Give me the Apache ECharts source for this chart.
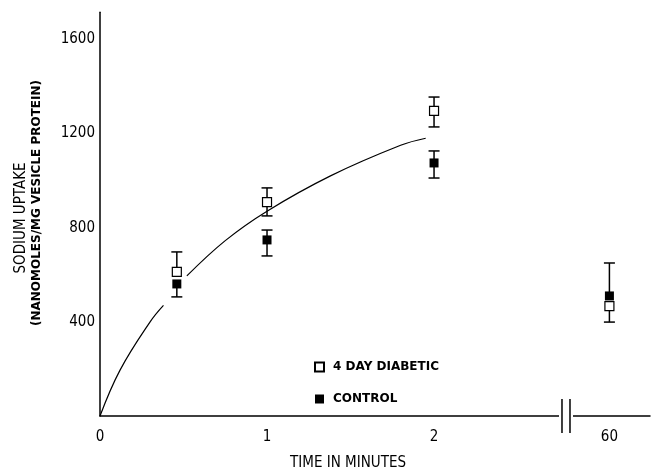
<!DOCTYPE html>
<html><head><meta charset="utf-8">
<script src="https://cdn.jsdelivr.net/npm/echarts@6/dist/echarts.min.js"></script>
<style>html,body{margin:0;padding:0;background:#fff}#c{width:654px;height:472px}</style>
</head><body><div id="c"></div>
<script>
// ---- data ----
const xTickTimes = [0, 1, 2, 60];
const xTickLabels = ['0', '1', '2', '60'];
const yTickValues = [400, 800, 1200, 1600];
const sampleTimes = [0.46, 1, 2, 60];
const diabeticMean = [612, 909, 1296, 467];
const diabeticHigh = [697, 969, 1355, 467];
const diabeticLow  = [612, 850, 1228, 399];
const controlMean  = [561, 748, 1075, 510];
const controlHigh  = [561, 790, 1126, 650];
const controlLow   = [506, 680, 1011, 510];
const curveTimes  = [0, 0.12, 0.3, 0.38, null, 0.52, 0.75, 1, 1.38, 1.8, 1.95];
const curveValues = [0, 195, 400, 470, null, 595, 745, 870, 1020, 1150, 1180];
const seriesNames = ['4 DAY DIABETIC', 'CONTROL'];

// ---- broken time axis: 0..2 linear, then 60 after a break ----
const POS_60 = 3.05, BREAK_POS = 2.79, X_MAX = 3.293;
function tPos(t) { return t === null ? null : (t > 2.5 ? POS_60 : t); }

const NARROW = "'Liberation Sans Narrow','DejaVu Sans Condensed',sans-serif";

function errItems(mean, lo, hi) {
  return sampleTimes.map((t, i) => [tPos(t), mean[i], lo[i], hi[i]]);
}
function errRender(params, api) {
  const x = api.value(0), m = api.value(1), lo = api.value(2), hi = api.value(3);
  const pm = api.coord([x, m]);
  const st = { stroke: '#000', lineWidth: 1.5 };
  const ch = [];
  const cap = 5.5;
  if (hi > m) {
    const ph = api.coord([x, hi]);
    ch.push({ type: 'line', shape: { x1: pm[0], y1: pm[1], x2: ph[0], y2: ph[1] }, style: st });
    ch.push({ type: 'line', shape: { x1: ph[0] - cap, y1: ph[1], x2: ph[0] + cap, y2: ph[1] }, style: st });
  }
  if (lo < m) {
    const pl = api.coord([x, lo]);
    ch.push({ type: 'line', shape: { x1: pm[0], y1: pm[1], x2: pl[0], y2: pl[1] }, style: st });
    ch.push({ type: 'line', shape: { x1: pl[0] - cap, y1: pl[1], x2: pl[0] + cap, y2: pl[1] }, style: st });
  }
  return { type: 'group', children: ch };
}

const chart = echarts.init(document.getElementById('c'), null, { renderer: 'canvas' });
chart.setOption({
  animation: false,
  backgroundColor: '#fff',
  grid: { left: 100, right: 4, top: 12.3, bottom: 56 },
  xAxis: {
    type: 'value', min: 0, max: X_MAX,
    axisLine: { lineStyle: { color: '#000', width: 1.5 } },
    axisTick: { show: false },
    splitLine: { show: false },
    axisLabel: {
      customValues: xTickTimes.map(tPos),
      formatter: v => { const i = xTickTimes.map(tPos).findIndex(p => Math.abs(p - v) < 1e-6); return i >= 0 ? xTickLabels[i] : ''; },
      color: '#000', fontFamily: NARROW, fontSize: 15, margin: 14
    }
  },
  yAxis: {
    type: 'value', min: 0, max: 1715,
    axisLine: { show: true, lineStyle: { color: '#000', width: 1.5 } },
    axisTick: { show: false },
    splitLine: { show: false },
    axisLabel: {
      customValues: yTickValues,
      formatter: v => String(v),
      color: '#000', fontFamily: NARROW, fontSize: 15, margin: 5
    }
  },
  legend: {
    data: seriesNames,
    orient: 'vertical', left: 309, top: 356,
    itemWidth: 9, itemHeight: 9, itemGap: 20,
    selectedMode: false,
    textStyle: { color: '#000', fontFamily: "'DejaVu Sans',sans-serif", fontWeight: 'bold', fontSize: 12, padding: [0, 0, 0, 4] }
  },
  graphic: [
    { type: 'text', x: 348, y: 463, style: { text: 'TIME IN MINUTES', align: 'center', verticalAlign: 'middle', textAlign: 'center', textVerticalAlign: 'middle', fill: '#000', font: "15px 'Liberation Sans Narrow','DejaVu Sans Condensed',sans-serif" } },
    { type: 'text', x: 21, y: 218, rotation: Math.PI / 2, style: { text: 'SODIUM UPTAKE', align: 'center', verticalAlign: 'middle', textAlign: 'center', textVerticalAlign: 'middle', fill: '#000', font: "15px 'Liberation Sans Narrow','DejaVu Sans Condensed',sans-serif" } },
    { type: 'text', x: 37, y: 203, rotation: Math.PI / 2, style: { text: '(NANOMOLES/MG VESICLE PROTEIN)', align: 'center', verticalAlign: 'middle', textAlign: 'center', textVerticalAlign: 'middle', fill: '#000', font: "bold 12px 'DejaVu Sans',sans-serif" } }
  ],
  series: [
    {
      type: 'line', name: 'fit', smooth: 0.4, showSymbol: false, silent: true, z: 1,
      lineStyle: { color: '#000', width: 1.2 },
      data: curveTimes.map((t, i) => t === null ? [null, null] : [t, curveValues[i]]),
      connectNulls: false
    },
    { type: 'custom', name: 'err-d', z: 2, silent: true, renderItem: errRender, encode: { x: 0, y: [1, 2, 3] }, data: errItems(diabeticMean, diabeticLow, diabeticHigh) },
    { type: 'custom', name: 'err-c', z: 2, silent: true, renderItem: errRender, encode: { x: 0, y: [1, 2, 3] }, data: errItems(controlMean, controlLow, controlHigh) },
    {
      type: 'scatter', name: seriesNames[1], z: 3, symbol: 'rect', symbolSize: 9,
      itemStyle: { color: '#000', opacity: 1 },
      data: sampleTimes.map((t, i) => [tPos(t), controlMean[i]])
    },
    {
      type: 'scatter', name: seriesNames[0], z: 4, symbol: 'rect', symbolSize: 9,
      itemStyle: { color: '#fff', borderColor: '#000', borderWidth: 1.2, opacity: 1 },
      data: sampleTimes.map((t, i) => [tPos(t), diabeticMean[i]])
    },
    {
      type: 'custom', name: 'axis-break', z: 5, silent: true,
      renderItem: (params, api) => {
        const p = api.coord([api.value(0), 0]);
        const st = { stroke: '#000', lineWidth: 1.5 };
        return { type: 'group', children: [
          { type: 'rect', shape: { x: p[0] - 7, y: p[1] - 3, width: 14, height: 6 }, style: { fill: '#fff' } },
          { type: 'line', shape: { x1: p[0] - 4, y1: p[1] - 17, x2: p[0] - 4, y2: p[1] + 17 }, style: st },
          { type: 'line', shape: { x1: p[0] + 4, y1: p[1] - 17, x2: p[0] + 4, y2: p[1] + 17 }, style: st }
        ] };
      },
      data: [[BREAK_POS, 0]]
    }
  ]
});
</script></body></html>
